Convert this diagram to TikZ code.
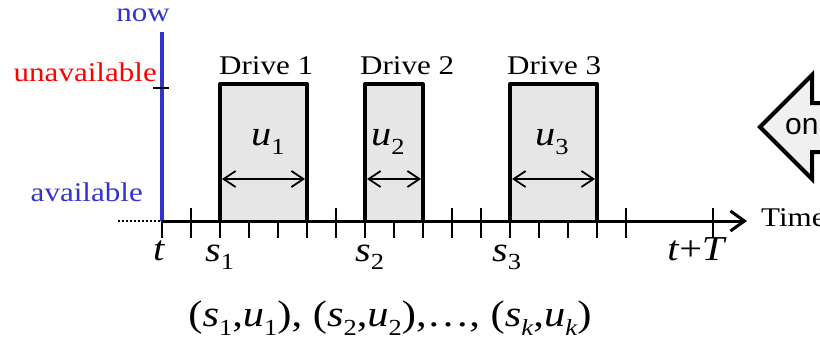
\documentclass[tikz,border=0pt]{standalone}
\usepackage{fontspec}
\setmainfont{Liberation Serif}[FakeStretch=1.15]
\setsansfont{Liberation Sans}
\usetikzlibrary{arrows.meta}
\definecolor{nowblue}{RGB}{51,51,204}
\definecolor{boxgray}{RGB}{230,230,230}
\definecolor{arrgray}{RGB}{240,240,240}
\newcommand{\lowsub}[2]{\raisebox{-#1}{\fontsize{23}{23}\selectfont #2}}
\begin{document}
\begin{tikzpicture}[x=1pt,y=-1pt,
  lbl/.style={inner sep=0pt, font=\fontsize{27}{30}\selectfont},
  mlbl/.style={inner sep=0pt, font=\fontsize{35}{38}\selectfont},
  flbl/.style={inner sep=0pt, font=\fontsize{37}{40}\selectfont},
  tickmark/.style={line width=2.4pt},
  drivebox/.style={line width=4pt, line join=round},
  span/.style={line width=1.8pt, {Straight Barb[length=12pt,width=16pt,line width=1.8pt]}-{Straight Barb[length=12pt,width=16pt,line width=1.8pt]}},
]
\useasboundingbox (0,0) rectangle (820,348);
\clip (0,0) rectangle (820,348);

% drive boxes
\coordinate (b1a) at (220,221); \coordinate (b1b) at (220,84); \coordinate (b1c) at (307,84); \coordinate (b1d) at (307,221);
\coordinate (b2a) at (365,221); \coordinate (b2b) at (365,84); \coordinate (b2c) at (423,84); \coordinate (b2d) at (423,221);
\coordinate (b3a) at (510,221); \coordinate (b3b) at (510,84); \coordinate (b3c) at (597,84); \coordinate (b3d) at (597,221);
\foreach \i in {1,2,3}{
  \fill[boxgray] (b\i a) rectangle (b\i c);
  \draw[drivebox] (b\i a) -- (b\i b) -- (b\i c) -- (b\i d);
}

% now line
\coordinate (nowtop) at (162,32);
\coordinate (origin) at (162,221);
\draw[nowblue, line width=3.6pt] (origin) -- (nowtop);

% axis
\coordinate (dotstart) at (118,221);
\coordinate (axend) at (747,221);
\draw[line width=2pt, dotted] (dotstart) -- (origin);
\draw[line width=3pt, -{Straight Barb[length=14pt,width=20pt,line width=3pt]}] (origin) -- (axend);

% ticks
\foreach \k in {0,...,16,19}{
  \coordinate (tk\k) at (162+29*\k,221);
}
\foreach \k in {0,2,3,4,5,7,8,9,12,13,14,15}{
  \draw[tickmark] (tk\k) -- ++(0,17);
}
\foreach \k in {1,6,10,11,16,19}{
  \draw[tickmark] ([yshift=13pt]tk\k) -- ++(0,30);
}

% unavailable level tick
\coordinate (ul) at (153,88); \coordinate (ur) at (169,88);
\draw[tickmark] (ul) -- (ur);

% duration arrows
\coordinate (a1l) at (222,179); \coordinate (a1r) at (305,179);
\coordinate (a2l) at (367,179); \coordinate (a2r) at (421,179);
\coordinate (a3l) at (512,179); \coordinate (a3r) at (595,179);
\draw[span] (a1l) -- (a1r);
\draw[span] (a2l) -- (a2r);
\draw[span] (a3l) -- (a3r);

% labels
\node[lbl, nowblue, anchor=base] (now) at (143,21.7) {now};
\node[lbl, red, anchor=base east] (unav) at (157,81.7) {unavailable};
\node[lbl, nowblue, anchor=base east] (av) at (143,201.7) {available};
\node[lbl, anchor=base west] (d1) at (219,74.3) {Drive 1};
\node[lbl, anchor=base west] (d2) at (360,74.3) {Drive 2};
\node[lbl, anchor=base west] (d3) at (507,74.3) {Drive 3};
\node[lbl, anchor=base west] (time) at (761,226.7) {Time};

\node[mlbl, anchor=base west] (u1) at (251,145) {\textit{u}\lowsub{9pt}{1}};
\node[mlbl, anchor=base west] (u2) at (371,145) {\textit{u}\lowsub{9pt}{2}};
\node[mlbl, anchor=base west] (u3) at (535,145) {\textit{u}\lowsub{9pt}{3}};

\node[mlbl, anchor=base] (tl) at (159,260) {\textit{t}};
\node[mlbl, anchor=base west] (s1) at (205,261.7) {\textit{s}\lowsub{8pt}{1}};
\node[mlbl, anchor=base west] (s2) at (355,261.7) {\textit{s}\lowsub{8pt}{2}};
\node[mlbl, anchor=base west] (s3) at (492,261.7) {\textit{s}\lowsub{8pt}{3}};
\node[mlbl, anchor=base] (tT) at (697,260) {\textit{t}+\textit{T}};

\node[flbl, anchor=base] (pairs) at (390,326.7) {(\textit{s}\lowsub{9pt}{1},\textit{u}\lowsub{9pt}{1}), (\textit{s}\lowsub{9pt}{2},\textit{u}\lowsub{9pt}{2}),\ldots, (\textit{s}\lowsub{9pt}{\textit{k}},\textit{u}\lowsub{9pt}{\textit{k}})};

% double arrow shape at right (cut off)
\coordinate (p1) at (760,127); \coordinate (p2) at (812,75); \coordinate (p3) at (812,103);
\coordinate (p4) at (850,103); \coordinate (p5) at (850,152); \coordinate (p6) at (812,152);
\coordinate (p7) at (812,179);
\draw[fill=arrgray, line width=4pt, line join=miter] (p1) -- (p2) -- (p3) -- (p4) -- (p5) -- (p6) -- (p7) -- cycle;
\node[inner sep=0pt, anchor=west, font=\sffamily\fontsize{30}{32}\selectfont] (on) at (785,127) {on};
\end{tikzpicture}
\end{document}
